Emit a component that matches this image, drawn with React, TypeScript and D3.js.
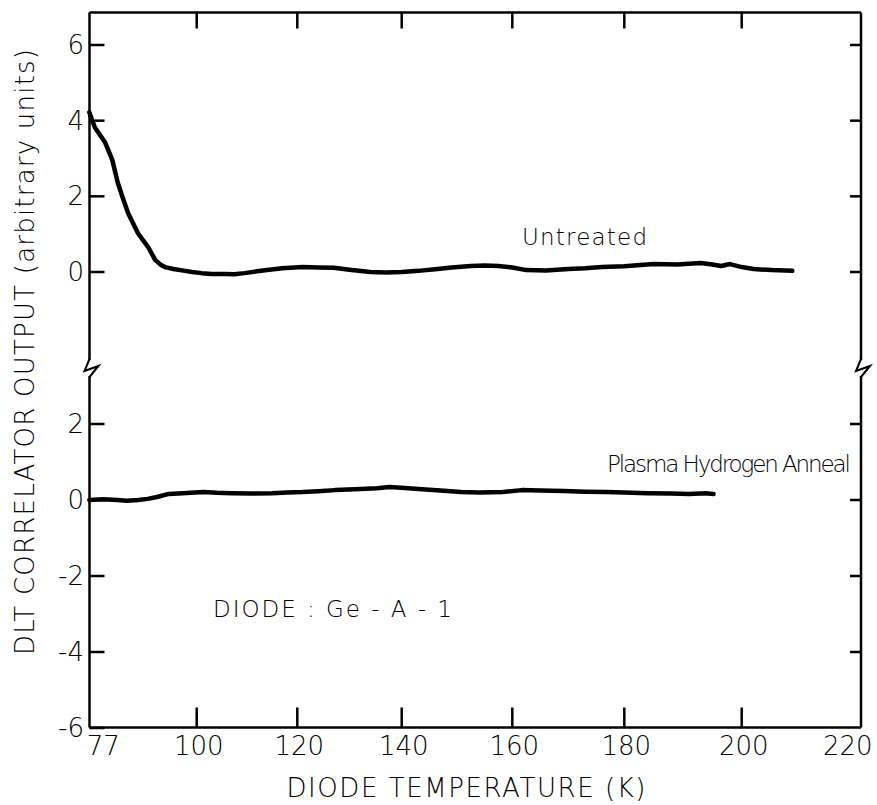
import React, { useEffect, useRef } from 'react';
import * as d3 from 'd3';

// x axis (diode temperature, K) – the recorder scale is not linear
const xTicks = [77, 100, 120, 140, 160, 180, 200, 220];
const upperTicks = [6, 4, 2, 0];
const lowerTicks = [2, 0, -2, -4, -6];

// "Untreated" trace
const untreatedT = [77, 77.5, 78.2, 79.3, 80.4, 81.9, 83.1, 84.2, 85.3, 86.4, 87.4, 88.5, 89.6, 91.1, 92.2, 93.2, 95, 97.5, 99, 101, 103, 105.5, 107.5, 109.5, 112, 114, 117, 121, 124, 127, 130, 134, 137, 140, 143, 146.5, 149, 152.5, 155, 157.5, 160, 162.5, 166, 170, 173, 176, 180, 185, 189, 193, 195, 196.5, 198, 200, 202, 205, 208.5];
const untreatedV = [4.22, 4.05, 3.82, 3.62, 3.42, 2.97, 2.36, 1.95, 1.56, 1.28, 1.03, 0.84, 0.66, 0.32, 0.2, 0.13, 0.08, 0.03, 0.0, -0.03, -0.05, -0.05, -0.06, -0.03, 0.02, 0.05, 0.1, 0.13, 0.12, 0.11, 0.06, 0.0, -0.01, 0.0, 0.03, 0.08, 0.12, 0.16, 0.17, 0.16, 0.12, 0.05, 0.04, 0.08, 0.1, 0.13, 0.15, 0.21, 0.2, 0.24, 0.2, 0.16, 0.21, 0.13, 0.08, 0.05, 0.03];

// "Plasma Hydrogen Anneal" trace
const annealT = [77, 80, 83, 85, 87.5, 89.5, 91.5, 94, 97, 101.3, 104, 107, 111, 115, 118, 121, 124, 127.2, 131, 135.3, 137.6, 140, 143, 147, 150.7, 154, 158.3, 161.7, 165, 169.2, 173, 176.7, 180, 184, 188, 191, 193.9, 195.2];
const annealV = [0.0, 0.02, 0.0, -0.02, 0.0, 0.03, 0.08, 0.16, 0.18, 0.21, 0.19, 0.18, 0.17, 0.18, 0.2, 0.21, 0.23, 0.26, 0.28, 0.31, 0.34, 0.32, 0.29, 0.25, 0.21, 0.2, 0.21, 0.26, 0.25, 0.24, 0.22, 0.21, 0.2, 0.18, 0.17, 0.16, 0.18, 0.16];

// layout
const W = 877, H = 805;
const left = 89.5, right = 861, top = 12.5, bottom = 727.5, breakY = 368;
const xTickPx = [89.3, 196.7, 297.3, 401.7, 512.3, 624.3, 741.7, 860.7];
const FONT = '"DejaVu Sans", "Liberation Sans", sans-serif';

export default function App() {
  const ref = useRef<SVGSVGElement>(null);

  useEffect(() => {
    const svg = d3.select(ref.current);
    svg.selectAll('*').remove();

    const x = d3.scaleLinear().domain(xTicks).range(xTickPx);
    const yUp = d3.scaleLinear().domain([0, 6]).range([272, 45]);
    const yLo = d3.scaleLinear().domain([0, -6]).range([500, 728]);

    const g = svg.append('g').attr('stroke', '#000').attr('fill', 'none');

    // frame: top, bottom, and the two broken verticals
    g.append('line').attr('x1', left).attr('x2', right).attr('y1', top).attr('y2', top).attr('stroke-width', 2.5);
    g.append('line').attr('x1', left).attr('x2', right).attr('y1', bottom).attr('y2', bottom).attr('stroke-width', 2.5);
    [left, right].forEach(ax => {
      g.append('line').attr('x1', ax).attr('x2', ax).attr('y1', top).attr('y2', breakY - 8).attr('stroke-width', 2.5);
      g.append('line').attr('x1', ax).attr('x2', ax).attr('y1', breakY + 8).attr('y2', bottom).attr('stroke-width', 2.5);
      g.append('path')
        .attr('d', `M${ax},${breakY - 9} L${ax - 5},${breakY + 3} L${ax + 9},${breakY - 2} L${ax},${breakY + 9}`)
        .attr('stroke-width', 2);
    });

    // x ticks (bottom up, top down)
    xTicks.slice(1, -1).forEach(t => {
      g.append('line').attr('x1', x(t)).attr('x2', x(t)).attr('y1', bottom).attr('y2', bottom - 20).attr('stroke-width', 2.5);
      g.append('line').attr('x1', x(t)).attr('x2', x(t)).attr('y1', top).attr('y2', top + 16).attr('stroke-width', 2.5);
    });

    // y ticks
    const yTick = (yy: number, rightSide: boolean) => {
      g.append('line').attr('x1', left).attr('x2', left + 15).attr('y1', yy).attr('y2', yy).attr('stroke-width', 2.5);
      if (rightSide) g.append('line').attr('x1', right).attr('x2', right - 11).attr('y1', yy).attr('y2', yy).attr('stroke-width', 2.5);
    };
    upperTicks.forEach(v => yTick(yUp(v), true));
    lowerTicks.forEach(v => yTick(yLo(v), v !== -6));

    // traces
    const lineUp = d3.line<number>().x((d, i) => x(untreatedT[i])).y(d => yUp(d));
    const lineLo = d3.line<number>().x((d, i) => x(annealT[i])).y(d => yLo(d));
    g.append('path').attr('d', lineUp(untreatedV)).attr('stroke-width', 4.5).attr('stroke-linejoin', 'round').attr('stroke-linecap', 'round');
    g.append('path').attr('d', lineLo(annealV)).attr('stroke-width', 4.5).attr('stroke-linejoin', 'round').attr('stroke-linecap', 'round');

    // text
    const txt = svg.append('g').attr('fill', '#000').attr('font-family', FONT).attr('font-weight', 300);

    xTicks.forEach((t, i) => {
      let dx = 2;
      if (i === 0) dx = 14;
      if (i === xTicks.length - 1) dx = -13;
      txt.append('text').attr('x', x(t) + dx).attr('y', 755).attr('text-anchor', 'middle')
        .attr('font-size', 26).text(String(t));
    });
    const yLabel = (yy: number, v: number) =>
      txt.append('text').attr('x', 84).attr('y', yy + 9).attr('text-anchor', 'end')
        .attr('font-size', 26).text(v < 0 ? `-${-v}` : String(v));
    upperTicks.forEach(v => yLabel(yUp(v), v));
    lowerTicks.forEach(v => yLabel(yLo(v), v));

    txt.append('text').attr('x', 466).attr('y', 797).attr('text-anchor', 'middle')
      .attr('font-size', 26).attr('textLength', 359).attr('lengthAdjust', 'spacing')
      .text('DIODE  TEMPERATURE  (K)');

    txt.append('text').attr('transform', `translate(34,352) rotate(-90)`).attr('text-anchor', 'middle')
      .attr('font-size', 26).attr('textLength', 606).attr('lengthAdjust', 'spacing')
      .text('DLT  CORRELATOR  OUTPUT  (arbitrary units)');

    txt.append('text').attr('x', 522).attr('y', 245).attr('font-size', 23)
      .attr('textLength', 125).attr('lengthAdjust', 'spacing').text('Untreated');
    txt.append('text').attr('x', 607).attr('y', 472).attr('font-size', 23)
      .attr('textLength', 244).attr('lengthAdjust', 'spacing').text('Plasma  Hydrogen  Anneal');
    txt.append('text').attr('x', 213).attr('y', 617).attr('font-size', 23)
      .attr('textLength', 239).attr('lengthAdjust', 'spacing').text('DIODE :  Ge - A - 1');
  }, []);

  return (
    <svg ref={ref} width={W} height={H}
      style={{ position: 'absolute', left: 0, top: 0, background: '#fff' }} />
  );
}
